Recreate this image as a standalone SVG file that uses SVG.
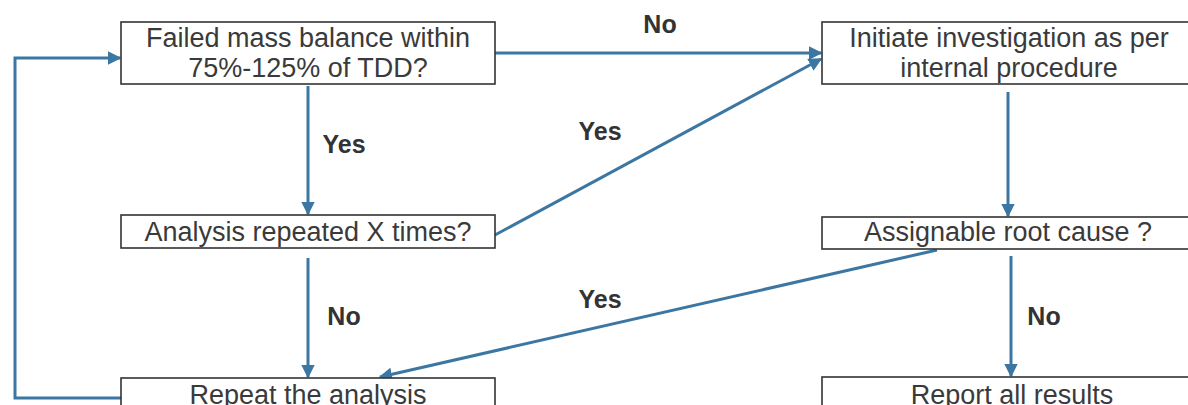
<svg xmlns="http://www.w3.org/2000/svg" width="1188" height="405" viewBox="0 0 1188 405">
<defs>
<style>
.box{fill:#ffffff;stroke:#333333;stroke-width:1.6}
.t{font-family:"Liberation Sans",Arial,Helvetica,sans-serif;font-size:27px;fill:#3a3a3a;text-anchor:middle}
.lbl{font-family:"Liberation Sans",Arial,Helvetica,sans-serif;font-size:25px;font-weight:bold;fill:#333333;text-anchor:middle}
.c{fill:none;stroke:#3b77a2;stroke-width:3}
</style>
<marker id="ah" viewBox="0 0 10 10" refX="9" refY="5" markerWidth="4.5" markerHeight="4.5" orient="auto" markerUnits="strokeWidth">
<path d="M0,0 L10,5 L0,10 Z" fill="#3b77a2"/>
</marker>
</defs>
<rect width="1188" height="405" fill="#ffffff"/>
<g id="connectors">
<line class="c" x1="495" y1="53" x2="821" y2="53" marker-end="url(#ah)"/>
<line class="c" x1="495" y1="235" x2="821" y2="59" marker-end="url(#ah)"/>
<line class="c" x1="308" y1="86" x2="308" y2="214" marker-end="url(#ah)"/>
<line class="c" x1="308" y1="258" x2="308" y2="377" marker-end="url(#ah)"/>
<line class="c" x1="1008" y1="92" x2="1008" y2="216" marker-end="url(#ah)"/>
<line class="c" x1="1011" y1="256" x2="1011" y2="376" marker-end="url(#ah)"/>
<line class="c" x1="937" y1="250" x2="380" y2="377" marker-end="url(#ah)"/>
<polyline class="c" points="121,398 15,398 15,58 120,58" marker-end="url(#ah)"/>
</g>
<g id="labels">
<text class="lbl" x="660" y="33">No</text>
<text class="lbl" x="344" y="153">Yes</text>
<text class="lbl" x="600" y="140">Yes</text>
<text class="lbl" x="344" y="325">No</text>
<text class="lbl" x="600" y="308">Yes</text>
<text class="lbl" x="1044" y="325">No</text>
</g>
<g id="n1">
<rect class="box" x="121" y="22" width="374" height="62"/>
<text class="t" x="308" y="47">Failed mass balance within</text>
<text class="t" x="308" y="77">75%-125% of TDD?</text>
</g>
<g id="n2">
<rect class="box" x="822" y="22" width="374" height="62"/>
<text class="t" x="1009" y="47">Initiate investigation as per</text>
<text class="t" x="1009" y="77">internal procedure</text>
</g>
<g id="n3">
<rect class="box" x="121" y="215" width="374" height="33"/>
<text class="t" x="308" y="241">Analysis repeated X times?</text>
</g>
<g id="n4">
<rect class="box" x="822" y="217" width="374" height="32"/>
<text class="t" x="1008" y="241">Assignable root cause ?</text>
</g>
<g id="n5">
<rect class="box" x="121" y="378" width="374" height="40"/>
<text class="t" x="308" y="404">Repeat the analysis</text>
</g>
<g id="n6">
<rect class="box" x="822" y="377" width="374" height="40"/>
<text class="t" x="1012" y="404">Report all results</text>
</g>
</svg>
